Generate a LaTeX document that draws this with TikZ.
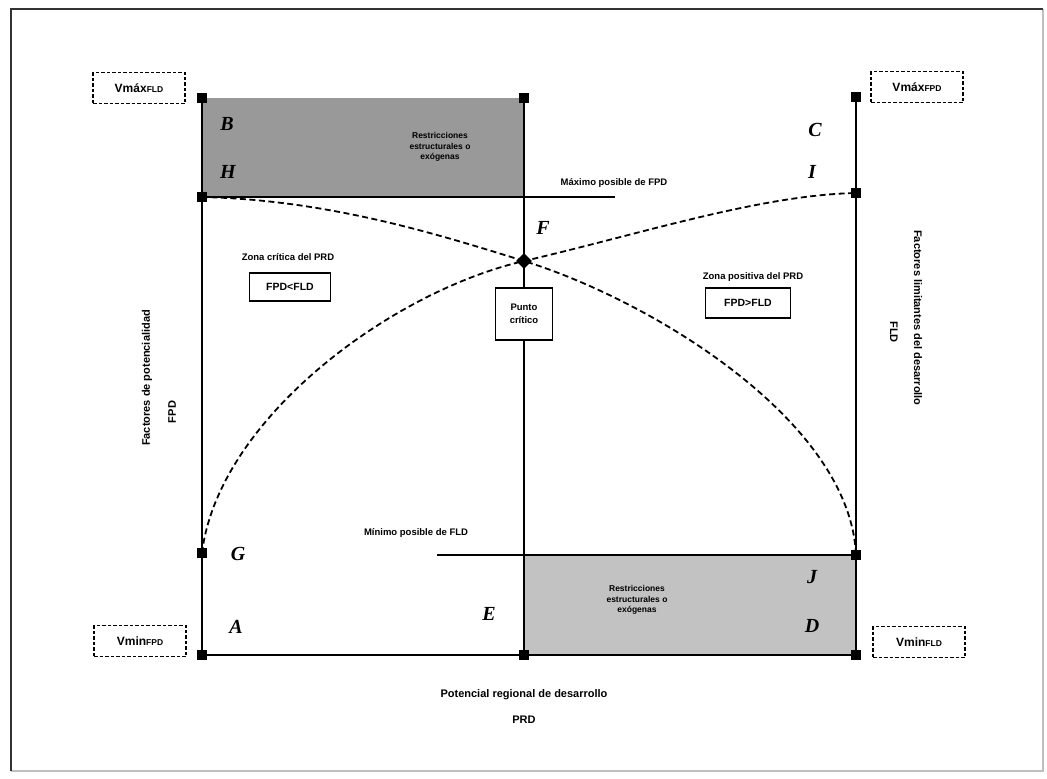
\documentclass[tikz,border=0pt]{standalone}
\usepackage{fontspec}
\setmainfont{Liberation Sans}
\newfontfamily\letterfont{Liberation Serif}
\begin{document}
\begin{tikzpicture}[x=1pt,y=-1pt,
  mk/.style={rectangle,fill=black,minimum size=10pt,inner sep=0pt,outer sep=0pt},
  axisline/.style={line width=1.8pt},
  curveline/.style={line width=1.8pt,dash pattern=on 6pt off 3.5pt},
  ptlabel/.style={font=\letterfont\bfseries\itshape\fontsize{20}{20}\selectfont,inner sep=0pt},
  txt/.style={font=\bfseries\fontsize{9.5}{11}\selectfont,inner sep=1pt,align=center},
  axtxt/.style={txt,font=\bfseries\fontsize{11}{12}\selectfont},
  rtxt/.style={txt,font=\bfseries\fontsize{8.5}{10.5}\selectfont},
  vbox/.style={draw,dash pattern=on 3.5pt off 2pt,line width=1.2pt,minimum width=92pt,minimum height=31pt,inner sep=0pt,font=\bfseries\fontsize{12}{12}\selectfont},
  sbox/.style={draw,line width=1.3pt,inner sep=0pt,align=center,font=\bfseries\fontsize{10.5}{13}\selectfont}
]
\path[use as bounding box] (0,0) rectangle (1047,779);
% outer frame, darker on the left and top
\draw[black!25,line width=1.2pt] (11,771) -- (1043,771) -- (1043,9);
\draw[black!80,line width=1.5pt] (11,771) -- (11,9) -- (1043,9);

% shaded restriction zones
\fill[black!40] (202,98) rectangle (524,197);
\fill[black!24] (524,555) rectangle (856,655);

% key points
\node[mk] (B) at (202,98) {};
\node[mk] (T) at (524,98) {};
\node[mk] (C) at (856,97) {};
\node[mk] (H) at (202,197) {};
\node[mk] (I) at (856,193) {};
\node[mk,minimum size=11pt,rotate=45] (F) at (524,261) {};
\node[mk] (G) at (202,553) {};
\node[mk] (J) at (856,555) {};
\node[mk] (A) at (202,655) {};
\node[mk] (E) at (524,655) {};
\node[mk] (D) at (856,655) {};
\coordinate (maxend) at (615,197);
\coordinate (minstart) at (437,555);

% axes and guide lines
\draw[axisline] (B.center) -- (A.center) -- (D.center) -- (C.center);
\draw[axisline] (T.center) -- (E.center);
\draw[line width=1.3pt] (H.center) -- (maxend);
\draw[line width=1.3pt] (minstart) -- (J.center);

% curves crossing at the critical point
\draw[curveline] (G.center) .. controls (218,420) and (390,292) .. (F.center)
  .. controls (640,234.2) and (760,195) .. (I.center);
\draw[curveline] (H.center) .. controls (330,200) and (440,235) .. (F.center)
  .. controls (650,300) and (850,420) .. (J.center);

% point letters
\node[ptlabel] (lB) at (227,124) {B};
\node[ptlabel] (lH) at (228,172) {H};
\node[ptlabel] (lC) at (815,130) {C};
\node[ptlabel] (lI) at (812,172) {I};
\node[ptlabel] (lF) at (543,228) {F};
\node[ptlabel] (lG) at (238,554) {G};
\node[ptlabel] (lA) at (236,627) {A};
\node[ptlabel] (lE) at (489,614) {E};
\node[ptlabel] (lJ) at (812,577) {J};
\node[ptlabel] (lD) at (812,626) {D};

% extreme values
\node[vbox] (vmaxfld) at (139,88) {Vmáx{\fontsize{8.5}{8}\selectfont FLD}};
\node[vbox] (vmaxfpd) at (917,87) {Vmáx{\fontsize{8.5}{8}\selectfont FPD}};
\node[vbox] (vminfpd) at (140,641) {Vmin{\fontsize{8.5}{8}\selectfont FPD}};
\node[vbox] (vminfld) at (919,642) {Vmin{\fontsize{8.5}{8}\selectfont FLD}};

% zone texts
\node[rtxt] (rtop) at (440,147) {Restricciones\\estructurales o\\exógenas};
\node[rtxt] (rbot) at (637,600) {Restricciones\\estructurales o\\exógenas};
\node[txt] (maxt) at (614,183) {Máximo posible de FPD};
\node[txt] (mint) at (416,533) {Mínimo posible de FLD};
\node[txt] (zc) at (288,257) {Zona crítica del PRD};
\node[sbox,minimum width=81pt,minimum height=28pt] (fpdlt) at (290,287) {FPD<FLD};
\node[txt] (zp) at (753,277) {Zona positiva del PRD};
\node[sbox,minimum width=85pt,minimum height=30pt] (fpdgt) at (748,303) {FPD>FLD};
\node[sbox,fill=white,minimum width=57pt,minimum height=52pt,font=\bfseries\fontsize{9.5}{13}\selectfont] (pc) at (524,314) {Punto\\crítico};

% axis titles
\node[axtxt,rotate=90] (ylab) at (147,378) {Factores de potencialidad};
\node[axtxt,rotate=90] (ylab2) at (172,412) {FPD};
\node[axtxt,rotate=-90] (y2lab) at (918,318) {Factores limitantes del desarrollo};
\node[axtxt,rotate=-90] (y2lab2) at (894,332) {FLD};
\node[axtxt] (xlab) at (524,695) {Potencial regional de desarrollo};
\node[axtxt] (xlab2) at (524,720) {PRD};
\end{tikzpicture}
\end{document}
